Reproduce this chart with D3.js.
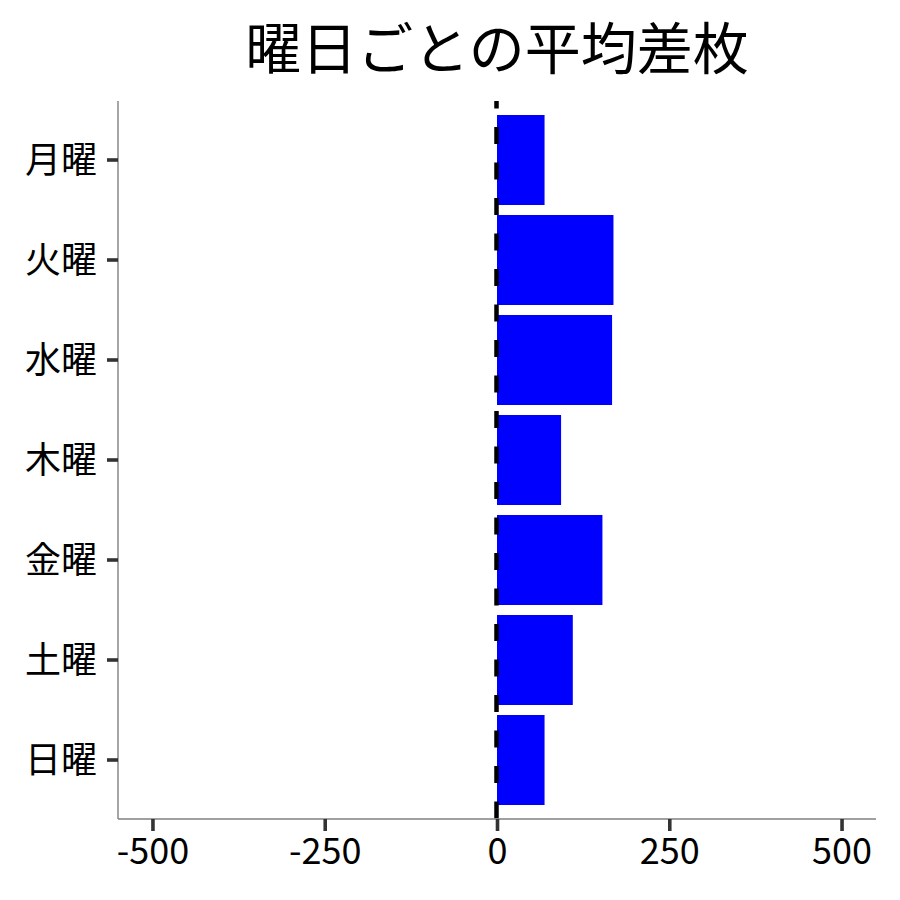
<!DOCTYPE html>
<html><head><meta charset="utf-8">
<script src="https://cdn.jsdelivr.net/npm/d3@7"></script>
<style>
html,body{margin:0;padding:0;background:#fff;}
text{font-family:"Noto Sans CJK JP","Noto Sans",sans-serif;}
</style></head>
<body>
<svg id="chart" width="900" height="900"></svg>
<script>
const title = "曜日ごとの平均差枚";
const days = ["月曜","火曜","水曜","木曜","金曜","土曜","日曜"];
const avgDiff = [69, 169, 167, 93, 153, 110, 69];
const xTicks = [-500, -250, 0, 250, 500];
const xTickLabels = ["-500", "-250", "0", "250", "500"];
const xDomain = [-550, 550];

const svg = d3.select("#chart");
const L = 118, R = 876, T = 101, B = 819;

const x = d3.scaleLinear().domain(xDomain).range([L, R]);
const y = d3.scaleBand().domain(days).range([T, B]).paddingInner(0.1).paddingOuter(0.14);

svg.append("rect").attr("width",900).attr("height",900).attr("fill","#fff");

// bars
svg.append("g").selectAll("rect").data(days).join("rect")
  .attr("x", (d,i) => x(Math.min(0, avgDiff[i])))
  .attr("width", (d,i) => Math.abs(x(avgDiff[i]) - x(0)))
  .attr("y", d => y(d))
  .attr("height", y.bandwidth())
  .attr("fill", "#0000ff");

// zero reference line (on top of bars)
svg.append("line")
  .attr("x1", x(0) - 0.5).attr("x2", x(0) - 0.5).attr("y1", T).attr("y2", B)
  .attr("stroke", "#000").attr("stroke-width", 4.5)
  .attr("stroke-dasharray", "17,18.5").attr("stroke-dashoffset", 9.5);

// x axis
const xAxis = svg.append("g").attr("transform", `translate(0,${B})`)
  .call(d3.axisBottom(x).tickValues(xTicks).tickFormat((d,i) => xTickLabels[i]).tickSize(12).tickPadding(6));
xAxis.select(".domain").attr("stroke", "#808080").attr("stroke-width", 1.4).attr("d", `M${L},0H${R}`);
xAxis.selectAll(".tick line").attr("stroke", "#333").attr("stroke-width", 3.6);
xAxis.selectAll(".tick text").attr("fill", "#000").style("font-size", "36px").attr("dy", "0.75em");

// y axis
const yAxis = svg.append("g").attr("transform", `translate(${L},0)`)
  .call(d3.axisLeft(y).tickSize(11).tickPadding(10));
yAxis.select(".domain").attr("stroke", "#808080").attr("stroke-width", 1.4).attr("d", `M0,${T}V${B}`);
yAxis.selectAll(".tick line").attr("stroke", "#333").attr("stroke-width", 3.6);
yAxis.selectAll(".tick text").attr("fill", "#000").style("font-size", "36px").attr("dy", "0.35em");

// title
svg.append("text")
  .attr("x", (L + R) / 2).attr("y", 44)
  .attr("text-anchor", "middle").attr("dominant-baseline", "central")
  .style("font-size", "56px").attr("fill", "#000")
  .text(title);
</script>
</body></html>
